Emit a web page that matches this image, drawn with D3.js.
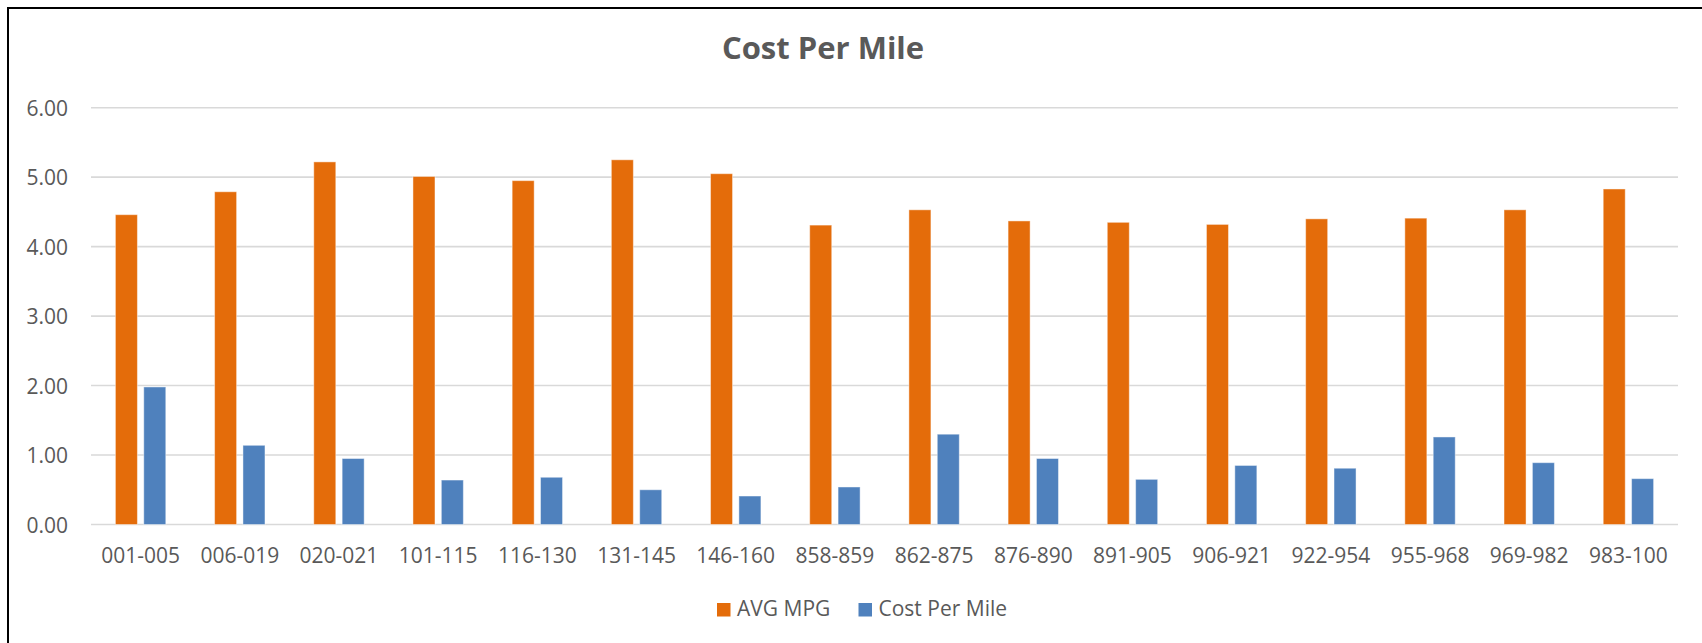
<!DOCTYPE html>
<html>
<head>
<meta charset="utf-8">
<script src="https://cdn.jsdelivr.net/npm/d3@7"></script>
<style>
  html, body { margin: 0; padding: 0; background: #fff; overflow: hidden; }
  svg { display: block; }
  text { font-family: "Open Sans", sans-serif; fill: #595959; }
</style>
</head>
<body>
<svg id="chart" width="1702" height="643"></svg>
<script>
// Route groups along the x axis
const categories = ["001-005", "006-019", "020-021", "101-115", "116-130", "131-145", "146-160", "858-859",
                    "862-875", "876-890", "891-905", "906-921", "922-954", "955-968", "969-982", "983-100"];
// Series values
const avgMpg = [4.46, 4.79, 5.22, 5.01, 4.95, 5.25, 5.05, 4.31, 4.53, 4.37, 4.35, 4.32, 4.40, 4.41, 4.53, 4.83];
const costPerMile = [1.98, 1.14, 0.95, 0.64, 0.68, 0.50, 0.41, 0.54, 1.30, 0.95, 0.65, 0.85, 0.81, 1.26, 0.89, 0.66];
const seriesNames = ["AVG MPG", "Cost Per Mile"];
const seriesColors = ["#E46C0A", "#4F81BD"];
// Value axis ticks
const yTicks = [0, 1, 2, 3, 4, 5, 6];
const chartTitle = "Cost Per Mile";

const series = [avgMpg, costPerMile];

const svg = d3.select("#chart");

// Outer frame of the chart area (open on the right and bottom edges)
svg.append("rect")
  .attr("x", 8).attr("y", 8)
  .attr("width", 2000).attr("height", 1000)
  .attr("fill", "none").attr("stroke", "#000").attr("stroke-width", 2);

const plot = { left: 91, right: 1678, top: 107.7, bottom: 524.5 };

const x = d3.scaleBand().domain(categories).range([plot.left, plot.right]).padding(0);
const y = d3.scaleLinear().domain([0, 6]).range([plot.bottom, plot.top]);

const bw = x.bandwidth();
const barW = bw * 0.222;
const gap = bw * 0.064;
const groupW = barW * 2 + gap;
const xSub = d3.scaleBand().domain(seriesNames)
  .range([bw / 2 - groupW / 2, bw / 2 + groupW / 2])
  .paddingInner(gap / (barW + gap));

// Horizontal gridlines
svg.append("g")
  .selectAll("line")
  .data(yTicks)
  .join("line")
  .attr("x1", plot.left).attr("x2", plot.right)
  .attr("y1", d => y(d)).attr("y2", d => y(d))
  .attr("stroke", "#D9D9D9").attr("stroke-width", 1.6);

// Value axis labels
const yAxis = d3.axisLeft(y).tickValues(yTicks).tickFormat(d3.format(".2f")).tickSize(0).tickPadding(0);
const yg = svg.append("g").attr("transform", "translate(68,0)").call(yAxis);
yg.select(".domain").remove();
yg.selectAll("text")
  .attr("font-family", "Open Sans, sans-serif")
  .attr("font-size", 21)
  .attr("fill", "#595959")
  .attr("dy", "0.36em");

// Bars
seriesNames.forEach((name, si) => {
  svg.append("g")
    .selectAll("rect")
    .data(categories.map((c, i) => ({ c, v: series[si][i] })))
    .join("rect")
    .attr("x", d => x(d.c) + xSub(name))
    .attr("width", xSub.bandwidth())
    .attr("y", d => y(d.v))
    .attr("height", d => y(0) - y(d.v))
    .attr("fill", seriesColors[si])
    .attr("stroke", "#fff").attr("stroke-opacity", 0.45).attr("stroke-width", 1);
});

// Category axis labels
const xAxis = d3.axisBottom(x).tickSize(0).tickPadding(0);
const xg = svg.append("g").attr("transform", `translate(0,${plot.bottom})`).call(xAxis);
xg.select(".domain").remove();
xg.selectAll("text")
  .attr("font-family", "Open Sans, sans-serif")
  .attr("font-size", 21)
  .attr("fill", "#595959")
  .attr("y", 38.5).attr("dy", null);

// Title
svg.append("text")
  .attr("x", 823).attr("y", 59)
  .attr("text-anchor", "middle")
  .attr("font-size", 31).attr("font-weight", "bold")
  .text(chartTitle);

// Legend
const legendItems = [
  { name: seriesNames[0], color: seriesColors[0], x: 717 },
  { name: seriesNames[1], color: seriesColors[1], x: 858.5 }
];
const lg = svg.append("g");
legendItems.forEach(item => {
  lg.append("rect")
    .attr("x", item.x).attr("y", 603)
    .attr("width", 13.5).attr("height", 13.5)
    .attr("fill", item.color);
  lg.append("text")
    .attr("x", item.x + 20).attr("y", 616)
    .attr("font-size", 21)
    .text(item.name);
});
</script>
</body>
</html>
